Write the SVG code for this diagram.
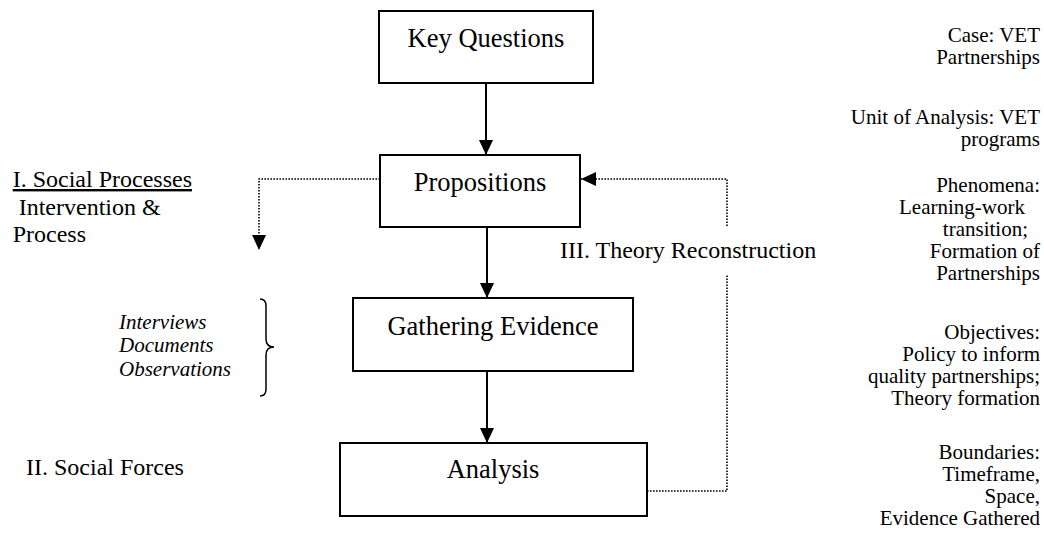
<svg xmlns="http://www.w3.org/2000/svg" width="1044" height="533" viewBox="0 0 1044 533">
<style>
text{font-family:"Liberation Serif","Times New Roman",serif;fill:#000}
.box{fill:#fff;stroke:#000;stroke-width:2}
.bt{font-size:26.5px;text-anchor:middle}
.lab{font-size:24px}
.it{font-size:21px;font-style:italic}
.rt{font-size:21px;text-anchor:end}
.solid{fill:none;stroke:#000;stroke-width:2}
.dot{fill:none;stroke:#000;stroke-width:1.6;stroke-dasharray:1.6 1.4}
</style>
<defs>
<marker id="ah" viewBox="0 0 15 14" refX="15" refY="7" markerWidth="15" markerHeight="14" markerUnits="userSpaceOnUse" orient="auto">
<path d="M0,0 L15,7 L0,14 z" fill="#000"/>
</marker>
</defs>
<rect width="1044" height="533" fill="#fff"/>
<g id="connectors">
<path class="solid" d="M486,83 V155" marker-end="url(#ah)"/>
<path class="solid" d="M487,227 V298" marker-end="url(#ah)"/>
<path class="solid" d="M487,371 V443" marker-end="url(#ah)"/>
<path class="dot" d="M380,179 H259 V250" marker-end="url(#ah)"/>
<path class="dot" d="M647,491 H727 V275"/>
<path class="dot" d="M727,226 V179 H581" marker-end="url(#ah)"/>
</g>
<g id="key-questions">
<rect class="box" x="379" y="11" width="214" height="72"/>
<text class="bt" x="486" y="47">Key Questions</text>
</g>
<g id="propositions">
<rect class="box" x="380" y="155" width="200" height="72"/>
<text class="bt" x="480" y="191">Propositions</text>
</g>
<g id="gathering-evidence">
<rect class="box" x="353" y="298" width="280" height="73"/>
<text class="bt" x="493" y="335">Gathering Evidence</text>
</g>
<g id="analysis">
<rect class="box" x="340" y="443" width="307" height="73"/>
<text class="bt" x="493" y="478">Analysis</text>
</g>
<g id="social-processes">
<text class="lab" x="12.7" y="187" text-decoration="underline">I. Social Processes</text>
<text class="lab" x="12.7" y="215" xml:space="preserve"> Intervention &amp;</text>
<text class="lab" x="12.7" y="242">Process</text>
</g>
<g id="social-forces">
<text class="lab" x="26" y="475">II. Social Forces</text>
</g>
<g id="theory-reconstruction">
<text class="lab" x="560" y="258">III. Theory Reconstruction</text>
</g>
<g id="evidence-sources">
<text class="it" x="119" y="329">Interviews</text>
<text class="it" x="119" y="352">Documents</text>
<text class="it" x="119" y="376">Observations</text>
<path d="M260,299 Q266,299 266,306 V339 Q266,347 274,347 Q266,347 266,355 V389 Q266,396 260,396" fill="none" stroke="#000" stroke-width="1.5"/>
</g>
<g id="case-notes">
<text class="rt" x="1040" y="42">Case: VET</text>
<text class="rt" x="1040" y="64">Partnerships</text>
<text class="rt" x="1040" y="124">Unit of Analysis: VET</text>
<text class="rt" x="1040" y="146">programs</text>
<text class="rt" x="1040" y="192">Phenomena:</text>
<text class="rt" x="1025" y="214">Learning-work</text>
<text class="rt" x="1028" y="236">transition;</text>
<text class="rt" x="1040" y="258">Formation of</text>
<text class="rt" x="1040" y="280">Partnerships</text>
<text class="rt" x="1040" y="339">Objectives:</text>
<text class="rt" x="1040" y="361">Policy to inform</text>
<text class="rt" x="1040" y="383">quality partnerships;</text>
<text class="rt" x="1040" y="405">Theory formation</text>
<text class="rt" x="1040" y="459">Boundaries:</text>
<text class="rt" x="1040" y="481">Timeframe,</text>
<text class="rt" x="1040" y="503">Space,</text>
<text class="rt" x="1040" y="525">Evidence Gathered</text>
</g>
</svg>
